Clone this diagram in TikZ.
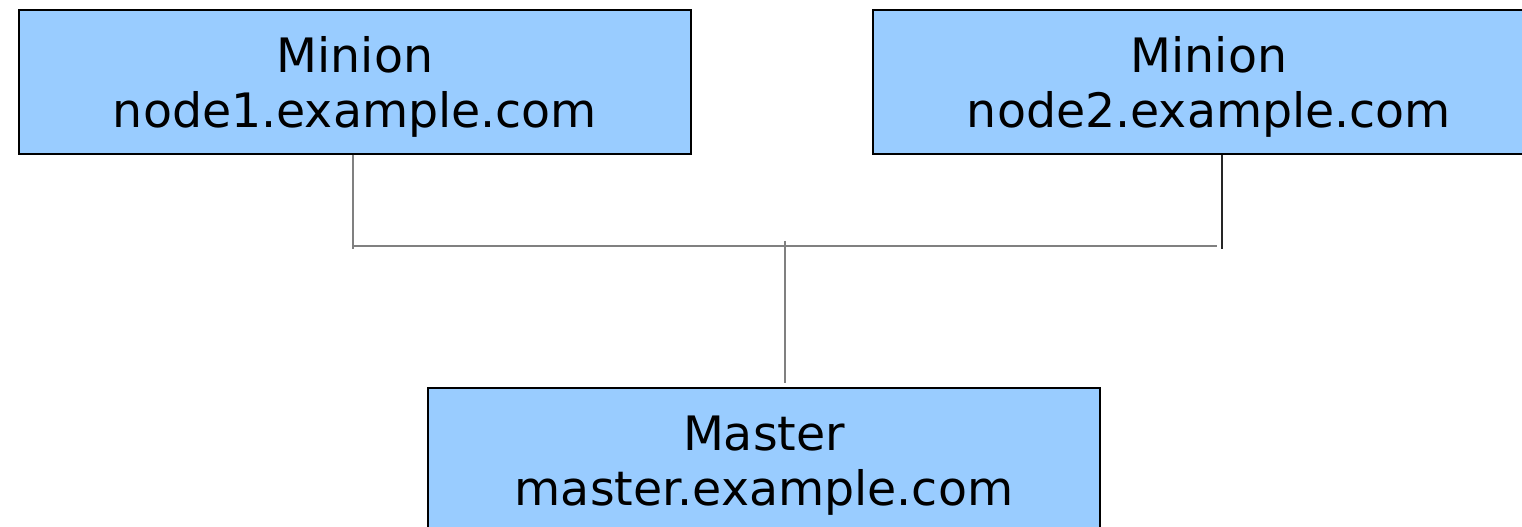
\documentclass[tikz,border=0pt]{standalone}
\usepackage{fontspec}
\setmainfont{DejaVu Sans}
\definecolor{boxfill}{HTML}{99CCFF}
\definecolor{wire}{HTML}{808080}
\newcommand{\toppad}{\rule{0pt}{46bp}}
\tikzset{
  hostbox/.style={draw=black, line width=1.5bp, fill=boxfill, inner sep=0pt,
    minimum width=672bp, minimum height=144bp, align=center,
    font=\fontsize{47.6}{55.4}\selectfont},
  wireline/.style={draw=wire, line width=1.8bp},
  darkwire/.style={draw=black!85, line width=1.8bp}
}
\begin{document}
\begin{tikzpicture}[x=1bp, y=-1bp]
  \useasboundingbox (0,0) rectangle (1522,527);
  \clip (0,0) rectangle (1522,527);
  % hosts
  \node[hostbox] (n1) at (355,82) {\toppad Minion\\node1.example.com};
  \node[hostbox] (n2) at (1209,82) {\toppad Minion\\node2.example.com};
  \node[hostbox] (m)  at (764,460) {\toppad Master\\master.example.com};
  % junction points on the bus
  \coordinate (jl) at (353,246);
  \coordinate (jr) at (1217,246);
  \coordinate (jc) at (785,241);
  % drops from the minions
  \draw[wireline] (n1.south -| jl) -- ++(0,94);
  \draw[darkwire] ([xshift=13bp]n2.south) -- ++(0,94);
  % bus
  \draw[wireline] (jl) -- (jr);
  % riser to the master
  \draw[wireline] (jc) -- ([yshift=4bp]m.north -| jc);
\end{tikzpicture}
\end{document}
